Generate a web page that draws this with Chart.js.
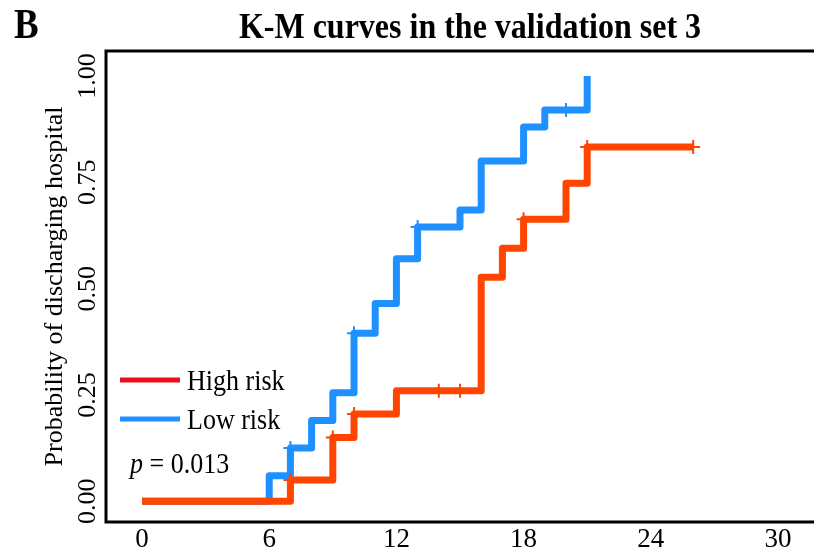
<!DOCTYPE html>
<html>
<head>
<meta charset="utf-8">
<script src="https://cdn.jsdelivr.net/npm/chart.js@4"></script>
<style>
  html, body { margin: 0; padding: 0; background: #fff; overflow: hidden; }
  canvas { display: block; }
</style>
</head>
<body>
<canvas id="kmChart" width="814" height="552"></canvas>
<script>
// time points (x) and probabilities (y)
const highTimes = [0, 7, 9, 10, 12, 16, 17, 18, 20, 21, 26];
const highProb  = [0, 0.05, 0.15, 0.205, 0.26, 0.527, 0.595, 0.663, 0.748, 0.833, 0.833];
const lowTimes  = [0, 6, 7, 8, 9, 10, 11, 12, 13, 15, 16, 18, 19, 21];
const lowProb   = [0, 0.06, 0.125, 0.19, 0.255, 0.395, 0.465, 0.57, 0.645, 0.685, 0.80, 0.88, 0.92, 1.0];

// censored observations (+ marks)
const highCensorTimes = [7, 9, 10, 14, 15, 18, 21, 26];
const highCensorProb  = [0.05, 0.15, 0.205, 0.26, 0.26, 0.663, 0.833, 0.833];
const lowCensorTimes  = [7, 10, 13, 20];
const lowCensorProb   = [0.125, 0.395, 0.645, 0.92];

const xTicks = [0, 6, 12, 18, 24, 30];
const yTicks = [0, 0.25, 0.5, 0.75, 1];
const seriesNames = ['High risk', 'Low risk'];
const pValueText = '0.013';

const highColor = '#ff4500';
const lowColor = '#1e90ff';

function toPoints(xs, ys) {
    return xs.map((x, i) => ({ x: x, y: ys[i] }));
}

// text a bit taller than wide, like the picture
function tallText(ctx, text, x, y, stretch) {
    ctx.save();
    ctx.translate(x, y);
    ctx.scale(1, stretch);
    ctx.fillText(text, 0, 0);
    ctx.restore();
}

// box (left, top, bottom) + title + legend drawn by hand
const decorations = {
    id: 'decorations',
    afterDraw(chart) {
        const ctx = chart.ctx;
        const a = chart.chartArea;
        ctx.save();
        ctx.strokeStyle = '#000';
        ctx.lineWidth = 3;
        ctx.beginPath();
        ctx.moveTo(chart.width, a.top);
        ctx.lineTo(a.left, a.top);
        ctx.lineTo(a.left, a.bottom);
        ctx.lineTo(chart.width, a.bottom);
        ctx.stroke();

        ctx.fillStyle = '#000';
        ctx.textBaseline = 'alphabetic';
        ctx.font = 'bold 37px "Liberation Serif"';
        ctx.textAlign = 'left';
        tallText(ctx, 'B', 14, 38, 1.15);
        ctx.font = 'bold 32px "Liberation Serif"';
        ctx.textAlign = 'center';
        tallText(ctx, 'K-M curves in the validation set 3', 470, 38, 1.15);

        // legend
        const legendColors = ['#e8101a', lowColor];
        const rowsY = [380, 419];
        ctx.textAlign = 'left';
        ctx.font = '26px "Liberation Serif"';
        ctx.lineWidth = 5;
        seriesNames.forEach((name, i) => {
            ctx.strokeStyle = legendColors[i];
            ctx.beginPath();
            ctx.moveTo(120, rowsY[i]);
            ctx.lineTo(180, rowsY[i]);
            ctx.stroke();
            ctx.fillStyle = '#000';
            tallText(ctx, name, 187, rowsY[i] + 10, 1.15);
        });
        ctx.font = 'italic 26px "Liberation Serif"';
        tallText(ctx, 'p', 130, 473, 1.15);
        const pw = ctx.measureText('p').width;
        ctx.font = '26px "Liberation Serif"';
        tallText(ctx, ' = ' + pValueText, 130 + pw, 473, 1.15);
        ctx.restore();
    }
};

new Chart(document.getElementById('kmChart'), {
    type: 'scatter',
    data: {
        datasets: [
            {
                label: seriesNames[0],
                data: toPoints(highTimes, highProb),
                showLine: true,
                stepped: true,
                borderColor: highColor,
                borderWidth: 7,
                borderJoinStyle: 'round',
                pointRadius: 0,
                order: 1
            },
            {
                label: seriesNames[1],
                data: toPoints(lowTimes, lowProb),
                showLine: true,
                stepped: true,
                borderColor: lowColor,
                borderWidth: 7,
                borderJoinStyle: 'round',
                pointRadius: 0,
                order: 2
            },
            {
                label: 'high censored',
                data: toPoints(highCensorTimes, highCensorProb),
                pointStyle: 'cross',
                pointRadius: 7,
                pointBorderWidth: 2,
                borderColor: highColor,
                backgroundColor: highColor,
                order: 0
            },
            {
                label: 'low censored',
                data: toPoints(lowCensorTimes, lowCensorProb),
                pointStyle: 'cross',
                pointRadius: 7,
                pointBorderWidth: 2,
                borderColor: lowColor,
                backgroundColor: lowColor,
                order: 0
            }
        ]
    },
    options: {
        responsive: false,
        animation: false,
        layout: { autoPadding: false, padding: { top: 51, left: 28, right: 0, bottom: 0 } },
        plugins: {
            legend: { display: false },
            tooltip: { enabled: false }
        },
        scales: {
            x: {
                type: 'linear',
                min: -1.70,
                max: 31.7,
                grid: { display: false, drawTicks: false },
                border: { display: false },
                afterBuildTicks: s => { s.ticks = xTicks.map(v => ({ value: v })); },
                afterFit: s => { s.height = 30; s.paddingLeft = 0; s.paddingRight = 0; },
                ticks: {
                    color: '#000',
                    padding: 2,
                    font: { family: 'Liberation Serif', size: 27 }
                }
            },
            y: {
                min: -0.049,
                max: 1.059,
                grid: { display: false, drawTicks: false },
                border: { display: false },
                afterBuildTicks: s => { s.ticks = yTicks.map(v => ({ value: v })); },
                afterFit: s => { s.width = 78; s.paddingTop = 0; s.paddingBottom = 0; },
                title: {
                    display: true,
                    text: 'Probability of discharging hospital',
                    color: '#000',
                    padding: { top: 12, bottom: 0 },
                    font: { family: 'Liberation Serif', size: 26 }
                },
                ticks: {
                    color: '#000',
                    minRotation: 90,
                    maxRotation: 90,
                    crossAlign: 'center',
                    padding: -5,
                    font: { family: 'Liberation Serif', size: 26 },
                    callback: v => v.toFixed(2)
                }
            }
        }
    },
    plugins: [decorations]
});
</script>
</body>
</html>
